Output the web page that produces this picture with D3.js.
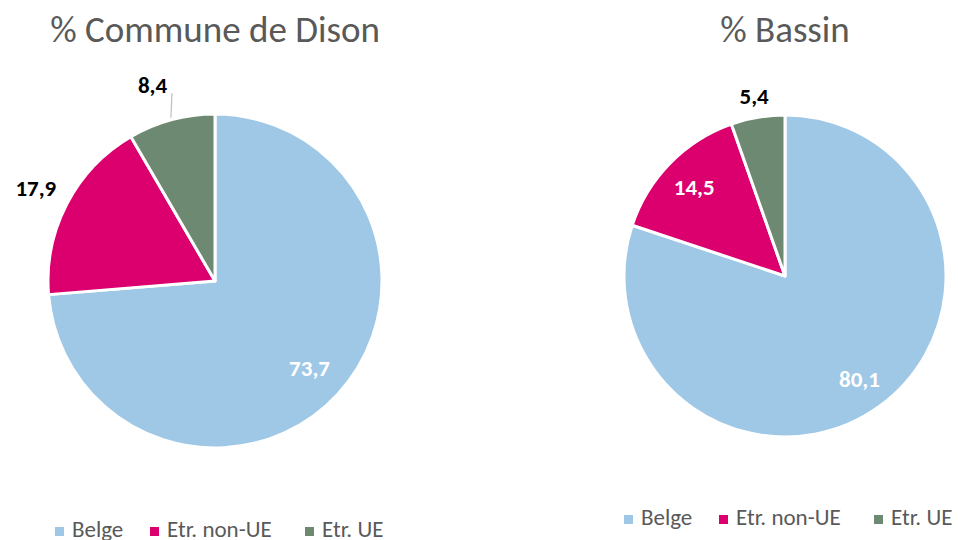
<!DOCTYPE html>
<html>
<head>
<meta charset="utf-8">
<script src="https://cdn.jsdelivr.net/npm/d3@7"></script>
<style>
  body { margin: 0; background: #fff; }
  svg { display: block; font-family: Calibri, Carlito, "Open Sans", sans-serif; }
</style>
</head>
<body>
<div id="chart"></div>
<script>
// Data
const categories = ['Belge', 'Etr. non-UE', 'Etr. UE'];
const disonValues = [73.7, 17.9, 8.4];
const bassinValues = [80.1, 14.5, 5.4];
const titles = ['% Commune de Dison', '% Bassin'];
const colors = ['#9fc8e7', '#dc006e', '#6e8971'];

const width = 958;
const height = 540;

const svg = d3.select('#chart')
  .append('svg')
  .attr('width', width)
  .attr('height', height);

// label layout per slice: inside (white) or outside (black)
const charts = [
  {
    title: titles[0], values: disonValues,
    cx: 215, cy: 281, r: 167, titleY: 42, legendY: 537, legendX: 55,
    labels: [
      { inside: true, k: 0.77 },
      { inside: false, k: 1.21 },
      { inside: false, k: 1.23, shift: -0.045, leader: true }
    ]
  },
  {
    title: titles[1], values: bassinValues,
    cx: 785, cy: 276, r: 161, titleY: 42, legendY: 525, legendX: 624,
    labels: [
      { inside: true, k: 0.79 },
      { inside: true, k: 0.79 },
      { inside: false, k: 1.137 }
    ]
  }
];

const pie = d3.pie().sort(null).value(d => d);

charts.forEach(c => {
  const g = svg.append('g');

  // title
  g.append('text')
    .attr('x', c.cx)
    .attr('y', c.titleY)
    .attr('text-anchor', 'middle')
    .attr('fill', '#595959')
    .style('font-size', '37px')
    .text(c.title);

  const arcs = pie(c.values);
  const arc = d3.arc().innerRadius(0).outerRadius(c.r);

  const pg = g.append('g').attr('transform', `translate(${c.cx},${c.cy})`);

  pg.selectAll('path')
    .data(arcs)
    .join('path')
    .attr('d', arc)
    .attr('fill', (d, i) => colors[i])
    .attr('stroke', '#fff')
    .attr('stroke-width', 3)
    .attr('stroke-linejoin', 'round');

  // data labels
  arcs.forEach((d, i) => {
    const cfg = c.labels[i];
    const mid = (d.startAngle + d.endAngle) / 2;
    const a = mid + (cfg.shift || 0);
    const x = Math.sin(a) * c.r * cfg.k;
    const y = -Math.cos(a) * c.r * cfg.k;
    if (cfg.leader) {
      const x1 = Math.sin(mid) * (c.r + 2);
      const y1 = -Math.cos(mid) * (c.r + 2);
      pg.append('line')
        .attr('x1', x1)
        .attr('y1', y1)
        .attr('x2', x1 + 1)
        .attr('y2', y + 8)
        .attr('stroke', '#bfbfbf')
        .attr('stroke-width', 1.2);
    }
    pg.append('text')
      .attr('x', x)
      .attr('y', y)
      .attr('dy', '0.35em')
      .attr('text-anchor', 'middle')
      .attr('fill', cfg.inside ? '#fff' : '#000')
      .style('font-size', '23px')
      .style('font-weight', 'bold')
      .text(d3.format('.1f')(d.data).replace('.', ','));
  });

  // legend
  const legend = g.append('g')
    .attr('transform', `translate(${c.legendX},${c.legendY})`);
  const gaps = [0, 95, 250];
  categories.forEach((name, i) => {
    legend.append('rect')
      .attr('x', gaps[i])
      .attr('y', -10)
      .attr('width', 9)
      .attr('height', 9)
      .attr('fill', colors[i]);
    legend.append('text')
      .attr('x', gaps[i] + 17)
      .attr('y', 0)
      .attr('fill', '#595959')
      .style('font-size', '23px')
      .text(name);
  });
});
</script>
</body>
</html>
